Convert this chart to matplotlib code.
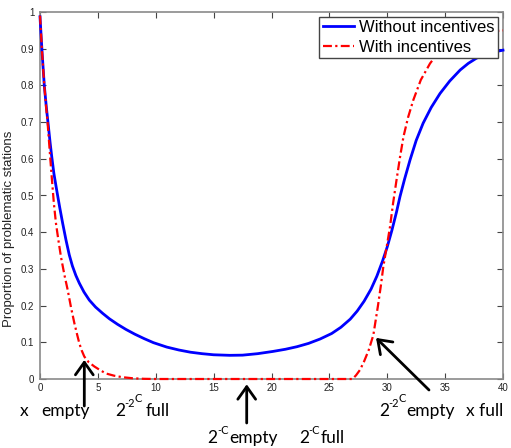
import matplotlib
matplotlib.use("Agg")
import matplotlib.pyplot as plt

# ---- data ----
x_without = [0, 0.18, 0.37, 0.55, 0.72, 0.87, 1.01, 1.2, 1.44, 1.7, 1.96, 2.25, 2.53, 2.8,
             3.1, 3.4, 3.8, 4.26, 4.8, 5.41, 6.0, 6.7, 7.43, 8.2, 9.0, 9.8, 10.95, 12.0,
             13.0, 14.0, 15.0, 16.4, 17.5, 18.8, 20.1, 21.2, 22.2, 23.2, 24.2, 25.2, 26.0,
             26.8, 27.4, 28.0, 28.6, 29.1, 29.6, 30.0, 30.4, 30.8, 31.1, 31.5, 31.97, 32.5,
             33.1, 33.8, 34.56, 35.4, 36.3, 37.0, 37.7, 38.5, 39.2, 40]
y_without = [0.987, 0.89, 0.80, 0.74, 0.69, 0.645, 0.607, 0.56, 0.515, 0.468, 0.424, 0.378,
             0.338, 0.308, 0.282, 0.261, 0.237, 0.215, 0.196, 0.179, 0.164, 0.149, 0.135,
             0.122, 0.110, 0.099, 0.087, 0.079, 0.073, 0.069, 0.066, 0.0645, 0.065, 0.069,
             0.075, 0.081, 0.088, 0.097, 0.109, 0.124, 0.141, 0.163, 0.185, 0.212, 0.245,
             0.28, 0.322, 0.36, 0.405, 0.455, 0.497, 0.545, 0.597, 0.65, 0.697, 0.74, 0.778,
             0.812, 0.842, 0.86, 0.874, 0.885, 0.891, 0.896]

x_with = [0, 0.18, 0.37, 0.52, 0.66, 0.78, 0.89, 1.04, 1.2, 1.38, 1.6, 1.81, 2.1, 2.39, 2.68,
          2.97, 3.2, 3.4, 3.6, 3.83, 4.2, 4.7, 5.2, 5.7, 6.4, 7.1, 8.0, 9.0, 10, 15, 20, 25,
          27.0, 27.3, 27.65, 28.0, 28.4, 28.8, 29.0, 29.2, 29.45, 29.66, 29.95, 30.24, 30.5,
          30.8, 31.1, 31.4, 31.8, 32.25, 32.9, 33.7, 34.5, 35.3, 36.0, 37.0, 38.0, 39.0, 40]
y_with = [0.99, 0.89, 0.80, 0.745, 0.697, 0.647, 0.60, 0.54, 0.478, 0.424, 0.376, 0.333,
          0.285, 0.243, 0.195, 0.152, 0.122, 0.097, 0.078, 0.061, 0.046, 0.034, 0.024, 0.015,
          0.009, 0.005, 0.002, 0.0005, 0.0, 0.0, 0.0, 0.0, 0.0, 0.01, 0.025, 0.048, 0.079,
          0.12, 0.16, 0.2, 0.255, 0.306, 0.36, 0.415, 0.478, 0.542, 0.604, 0.66, 0.713, 0.76,
          0.815, 0.86, 0.893, 0.913, 0.925, 0.935, 0.942, 0.947, 0.95]

labels = ["Without incentives", "With incentives"]
ylabel = "Proportion of problematic stations"
xticks = [0, 5, 10, 15, 20, 25, 30, 35, 40]
yticks = [0, 0.1, 0.2, 0.3, 0.4, 0.5, 0.6, 0.7, 0.8, 0.9, 1]
ytick_labels = ["0", "0.1", "0.2", "0.3", "0.4", "0.5", "0.6", "0.7", "0.8", "0.9", "1"]

plt.rcParams['font.family'] = ['Liberation Sans', 'DejaVu Sans']

W, H = 511, 448
fig = plt.figure(figsize=(W / 100, H / 100), dpi=100)
ax = fig.add_axes([40 / W, 1 - 379 / H, 463 / W, 367 / H])

ax.plot(x_without, y_without, color='#0000ff', lw=2.0, label=labels[0],
        clip_on=False, zorder=3, solid_joinstyle='round')
ax.plot(x_with, y_with, color='#ff0000', lw=1.6, linestyle=(0, (4, 1.5, 1, 1.5)),
        label=labels[1], clip_on=False, zorder=4)

ax.set_xlim(0, 40)
ax.set_ylim(0, 1)
ax.set_xticks(xticks)
ax.set_xticklabels([str(t) for t in xticks])
ax.set_yticks(yticks)
ax.set_yticklabels(ytick_labels)
ax.tick_params(direction='in', length=4, width=0.8, color='#444444', labelsize=7,
               top=True, right=True, labelcolor='#222222')
ax.tick_params(axis='y', pad=4)
ax.tick_params(axis='x', pad=3)
for s in ax.spines.values():
    s.set_color('#8a8a8a')
    s.set_linewidth(1.2)

ax.set_ylabel(ylabel, fontsize=9.5, color='#222222')
ax.yaxis.set_label_coords(-0.054, 0.41)

leg = ax.legend(loc='upper right', fontsize=12, frameon=True, fancybox=False,
                handlelength=1.9, handletextpad=0.3, labelspacing=0.25,
                borderpad=0.2, borderaxespad=0.3, framealpha=1)
leg.get_frame().set_edgecolor('#444444')
leg.get_frame().set_linewidth(1.0)

# ---- annotations below the axes ----
def fx(px):
    return px / W
def fy(py):
    return 1 - py / H

def put(px, py, s, size=12.5):
    fig.text(fx(px), fy(py), s, fontsize=size, family='Lato', va='baseline',
             ha='left', color='k')

SUP = 8
# left group: "x  empty   2^-2^C full"
put(20, 416, "x")
put(41, 416, "empty")
put(115, 416, "2")
put(124, 407, "-2", SUP)
put(134.5, 402, "C", SUP)
put(146, 416, "full")
# right group: "2^-2^C empty   x full"
put(379, 416, "2")
put(388, 407, "-2", SUP)
put(398.5, 402, "C", SUP)
put(406, 416, "empty")
put(466, 416, "x full")
# bottom group: "2^-C empty   2^-C full"
put(207, 443, "2")
put(217, 434, "-C", SUP)
put(229, 443, "empty")
put(299, 443, "2")
put(308, 434, "-C", SUP)
put(321, 443, "full")

aprops = dict(arrowstyle='->,head_length=0.45,head_width=0.32', lw=2.0, color='k',
              mutation_scale=20, shrinkA=0, shrinkB=0)
ax.annotate("", xy=(3.83, 0.052), xycoords='data',
            xytext=(fx(84.3), fy(406)), textcoords='figure fraction',
            arrowprops=aprops, annotation_clip=False)
ax.annotate("", xy=(17.86, -0.0145), xycoords='data',
            xytext=(fx(246.7), fy(423)), textcoords='figure fraction',
            arrowprops=aprops, annotation_clip=False)
ax.annotate("", xy=(29.03, 0.112), xycoords='data',
            xytext=(fx(429), fy(390)), textcoords='figure fraction',
            arrowprops=aprops, annotation_clip=False)

fig.savefig("out.png", dpi=100)
